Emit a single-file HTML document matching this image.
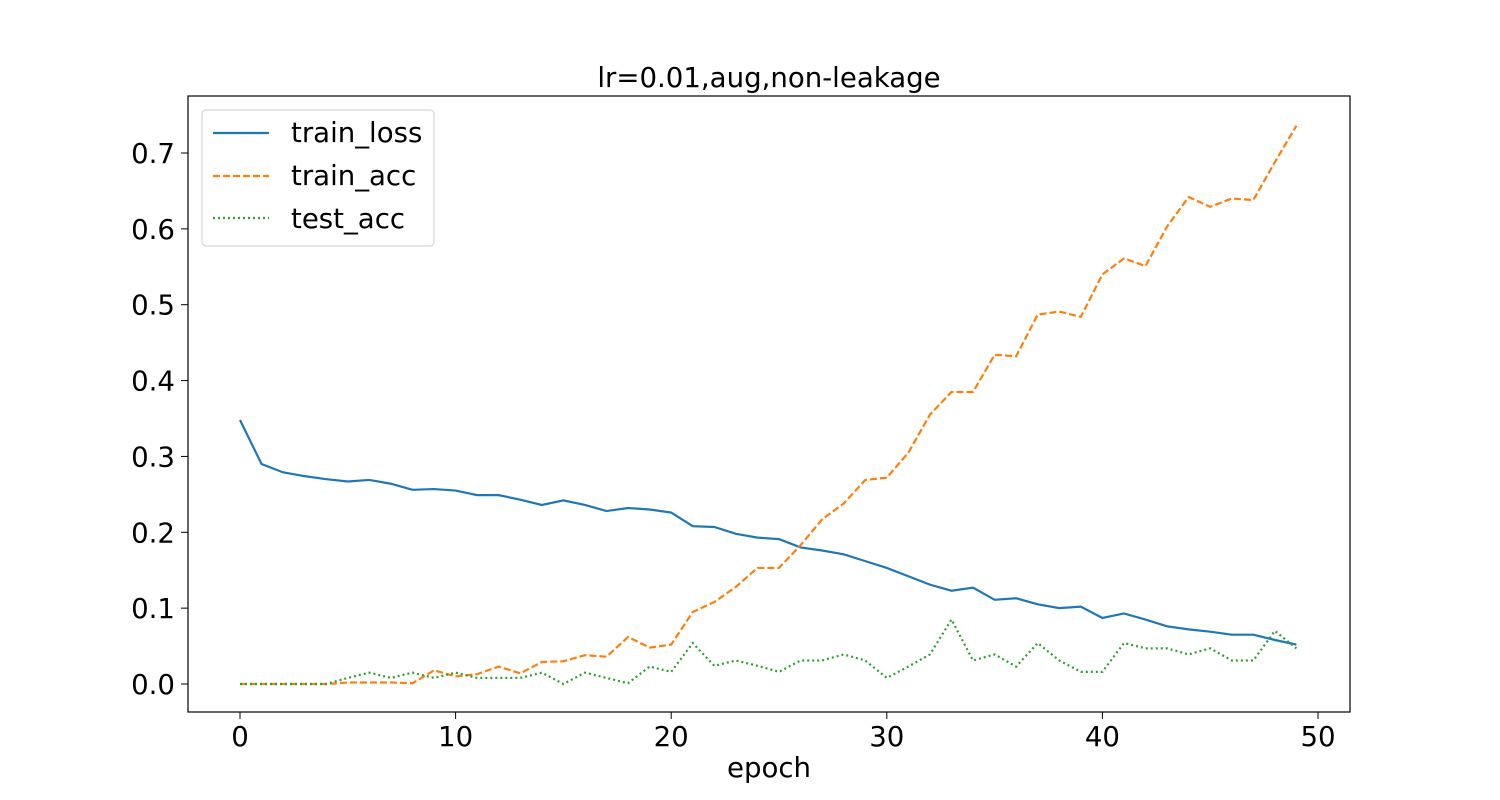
<!DOCTYPE html>
<html><head><meta charset="utf-8"><style>
html,body{margin:0;padding:0;background:#fff;}
svg{display:block;font-family:"DejaVu Sans","Liberation Sans",sans-serif;}
</style></head><body>
<svg id="chart" width="1500" height="800">
<text x="769" y="87" font-size="27.6" text-anchor="middle">lr=0.01,aug,non-leakage</text>
<g id="marks"></g>
<rect x="188" y="96" width="1162" height="616" fill="none" stroke="#000" stroke-width="1.2"/>
<g id="axes"></g>
<text x="769" y="777" font-size="27.6" text-anchor="middle">epoch</text>
<g>
<rect x="202" y="110" width="232" height="136" rx="4" fill="#fff" fill-opacity="0.8" stroke="#ccc"/>
<line x1="213" y1="133" x2="269" y2="133" stroke="#1f77b4" stroke-width="2.2"/>
<text x="291" y="142" font-size="27.6">train_loss</text>
<line x1="213" y1="176" x2="269" y2="176" stroke="#ff7f0e" stroke-width="2.2" stroke-dasharray="7,3"/>
<text x="291" y="185" font-size="27.6">train_acc</text>
<line x1="213" y1="218" x2="269" y2="218" stroke="#2ca02c" stroke-width="2.2" stroke-dasharray="2,3"/>
<text x="291" y="228" font-size="27.6">test_acc</text>
</g>
</svg>
<script>
const trainLoss=[0.348,0.29,0.279,0.274,0.27,0.267,0.269,0.264,0.256,0.257,0.255,0.249,0.249,0.243,0.236,0.242,0.236,0.228,0.232,0.23,0.226,0.208,0.207,0.198,0.193,0.191,0.18,0.176,0.171,0.162,0.153,0.142,0.131,0.123,0.127,0.111,0.113,0.105,0.1,0.102,0.087,0.093,0.085,0.076,0.072,0.069,0.065,0.065,0.058,0.052];
const trainAcc=[0,0,0,0,0,0.002,0.002,0.002,0.001,0.018,0.01,0.013,0.023,0.014,0.029,0.03,0.038,0.036,0.062,0.048,0.052,0.095,0.108,0.128,0.153,0.153,0.183,0.217,0.238,0.269,0.272,0.305,0.355,0.385,0.385,0.434,0.432,0.487,0.491,0.484,0.54,0.561,0.551,0.603,0.642,0.629,0.64,0.638,0.688,0.736];
const testAcc=[0,0,0,0,0,0.008,0.015,0.008,0.015,0.008,0.015,0.008,0.008,0.008,0.015,0,0.015,0.008,0.001,0.023,0.016,0.054,0.024,0.031,0.024,0.016,0.031,0.031,0.039,0.031,0.008,0.023,0.039,0.085,0.031,0.039,0.023,0.054,0.031,0.016,0.016,0.054,0.047,0.047,0.039,0.047,0.031,0.031,0.07,0.047];
const xTicks=[0,10,20,30,40,50];
const yTicks=[0,0.1,0.2,0.3,0.4,0.5,0.6,0.7];
const NS="http://www.w3.org/2000/svg";
const xs=e=>240+e*(1318-240)/50;
const ys=v=>684-v*(684-153)/0.7;
const marks=document.getElementById('marks'),axes=document.getElementById('axes');
function series(arr,color,dash,name){
  const p=document.createElementNS(NS,'polyline');
  p.setAttribute('points',arr.map((v,i)=>xs(i)+','+ys(v)).join(' '));
  p.setAttribute('fill','none');p.setAttribute('stroke',color);p.setAttribute('stroke-width','2.2');
  if(dash)p.setAttribute('stroke-dasharray',dash);
  
  
  marks.appendChild(p);
}
series(trainLoss,'#1f77b4',null,'train-loss-line');
series(trainAcc,'#ff7f0e','7,3','train-acc-line');
series(testAcc,'#2ca02c','2,3','test-acc-line');
xTicks.forEach(t=>{
  const l=document.createElementNS(NS,'line');
  l.setAttribute('x1',xs(t));l.setAttribute('x2',xs(t));l.setAttribute('y1',712);l.setAttribute('y2',719);l.setAttribute('stroke','#000');
  
  
  axes.appendChild(l);
  const tx=document.createElementNS(NS,'text');
  tx.setAttribute('x',xs(t));tx.setAttribute('y',746);tx.setAttribute('font-size','27.6');tx.setAttribute('text-anchor','middle');
  tx.textContent=t;
  
  
  axes.appendChild(tx);
});
yTicks.forEach(t=>{
  const l=document.createElementNS(NS,'line');
  l.setAttribute('x1',181);l.setAttribute('x2',188);l.setAttribute('y1',ys(t));l.setAttribute('y2',ys(t));l.setAttribute('stroke','#000');
  
  
  axes.appendChild(l);
  const tx=document.createElementNS(NS,'text');
  tx.setAttribute('x',175);tx.setAttribute('y',ys(t)+10);tx.setAttribute('font-size','27.6');tx.setAttribute('text-anchor','end');
  tx.textContent=t.toFixed(1);
  
  
  axes.appendChild(tx);
});
</script>
</body></html>
